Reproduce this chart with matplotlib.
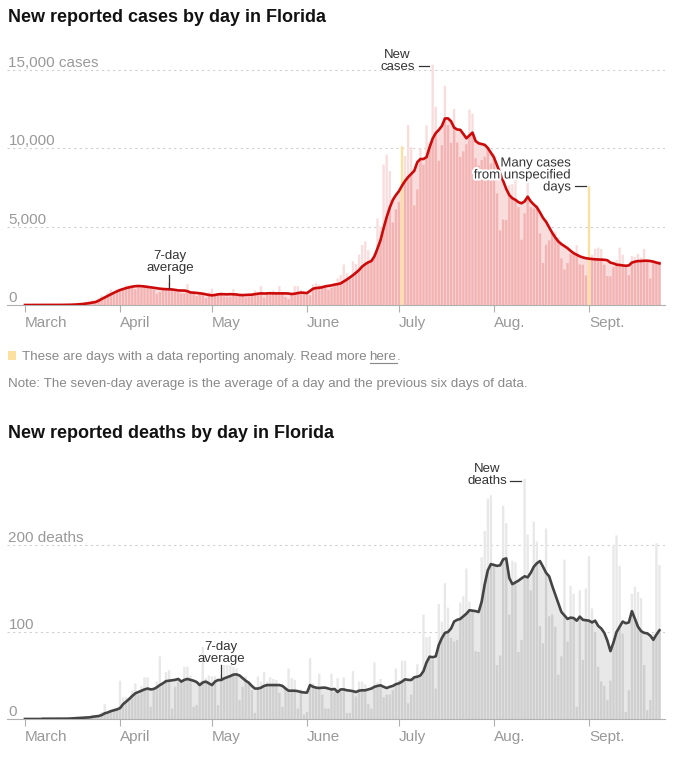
import matplotlib
matplotlib.use('Agg')
import matplotlib.pyplot as plt
import matplotlib.transforms as mtransforms
import matplotlib.patheffects as pe
from matplotlib.lines import Line2D
from matplotlib.patches import Rectangle
import numpy as np

plt.rcParams['font.family'] = ['Liberation Sans', 'DejaVu Sans']

# ---- data: one value per day, March 1 to Sept. 24 ----
months = ['March', 'April', 'May', 'June', 'July', 'Aug.', 'Sept.']
month_start = [0, 31, 61, 92, 122, 153, 184]

cases_mar = [2, 0, 1, 2, 1, 2, 4, 4, 4, 6, 5, 14, 15, 20, 38, 18, 56, 94, 126, 130,
             205, 270, 314, 280, 432, 615, 535, 776, 994, 840, 1000]
cases_apr = [1031, 1012, 1264, 1255, 1120, 1003, 1124, 1086, 1251, 1095, 1033, 980, 721, 832, 1062,
             1032, 1413, 1034, 844, 812, 738, 740, 1330, 856, 776, 573, 744, 659, 431, 820]
cases_may = [1038, 602, 735, 819, 541, 516, 532, 1009, 731, 682, 602, 484, 520, 697, 927, 777,
             1205, 475, 709, 735, 928, 776, 1203, 773, 509, 376, 651, 1204, 1212, 957, 740]
cases_jun = [667, 617, 1317, 1419, 1305, 1270, 1180, 966, 1096, 1371, 1698, 1902, 2581, 2016, 1758,
             2783, 2610, 3207, 3822, 4049, 3494, 2926, 3286, 5508, 5004, 8942, 9585, 8530, 5266, 6093]
cases_jul = [6563, 10109, 9488, 11458, 10059, 6336, 7361, 9989, 8935, 11433, 10360, 15300, 12624,
             9194, 10181, 13965, 11466, 10328, 12478, 10347, 9440, 9785, 10249, 12444, 12199, 9344,
             8892, 9230, 9446, 9956, 9007]
cases_aug = [9642, 7104, 4752, 5446, 5409, 7650, 7686, 8502, 6229, 4155, 5831, 8109, 6236, 6148,
             6352, 4559, 2678, 3838, 4115, 4555, 4684, 4311, 2974, 2258, 2673, 3269, 3220, 3815,
             2583, 2564, 1885]
cases_sep = [7569, 3198, 3571, 3656, 3573, 2564, 1838, 1827, 2423, 2870, 3650, 3190, 2423, 1900,
             3116, 3060, 3255, 3040, 3573, 2870, 1685, 2870, 2790, 2800]

cases_avg_mar = [0, 0, 1, 1, 1, 1, 2, 2, 3, 3, 4, 5, 7, 9, 12, 16, 24, 35, 50, 68,
                 92, 120, 155, 190, 270, 380, 480, 580, 680, 780, 870]
cases_avg_apr = [955, 1020, 1080, 1125, 1170, 1200, 1210, 1200, 1180, 1150, 1125, 1100, 1070, 1040,
                 1020, 1010, 1000, 990, 960, 930, 920, 920, 880, 800, 785, 770, 745, 720, 680, 640]
cases_avg_may = [615, 640, 680, 690, 685, 680, 690, 680, 670, 640, 630, 640, 650, 660, 690, 720,
                 740, 730, 740, 750, 740, 740, 740, 740, 740, 730, 700, 720, 760, 790, 780]
cases_avg_jun = [760, 900, 1040, 1080, 1100, 1130, 1190, 1220, 1250, 1300, 1330, 1380, 1500, 1620,
                 1760, 1900, 2060, 2230, 2450, 2600, 2720, 2800, 3100, 3600, 4140, 4900, 5600,
                 6200, 6690, 7000]
cases_avg_jul = [7250, 7600, 7900, 8150, 8350, 8550, 9100, 9300, 9300, 9420, 10050, 10600, 10950,
                 11150, 11400, 11880, 11890, 11700, 11300, 11180, 11160, 10900, 10620, 10800,
                 10980, 10450, 10300, 10250, 10200, 10000, 9700]
cases_avg_aug = [9400, 8900, 8390, 7900, 7400, 7000, 6800, 6700, 6550, 6480, 6600, 6900, 6600,
                 6400, 6220, 5900, 5550, 5300, 4950, 4600, 4300, 4050, 3880, 3750, 3620, 3450,
                 3300, 3200, 3100, 3030, 2980]
cases_avg_sep = [2950, 2930, 2910, 2900, 2890, 2880, 2850, 2700, 2650, 2570, 2550, 2520, 2500,
                 2520, 2700, 2760, 2800, 2800, 2820, 2820, 2800, 2760, 2700, 2650]

# days flagged as data reporting anomalies (July 2, Sept. 1)
anomaly_days = [123, 184]

deaths_mar = [0, 0, 0, 0, 0, 0, 2, 0, 0, 0, 0, 0, 0, 1, 0, 1, 1, 2, 2, 0,
              3, 1, 5, 4, 3, 8, 17, 6, 10, 12, 12]
deaths_apr = [44, 25, 25, 25, 33, 41, 28, 38, 48, 48, 14, 33, 43, 72, 39, 54, 56, 12, 37, 43,
              45, 60, 60, 50, 14, 16, 43, 83, 47, 50]
deaths_may = [49, 49, 16, 50, 62, 62, 62, 60, 58, 22, 37, 49, 41, 33, 7, 49, 43, 54, 43, 48,
              46, 45, 30, 14, 37, 58, 47, 45, 12, 34, 5]
deaths_jun = [8, 70, 41, 37, 52, 28, 12, 12, 52, 31, 47, 31, 48, 7, 7, 55, 26, 43, 43, 40,
              17, 12, 65, 42, 46, 25, 28, 28, 33, 58]
deaths_jul = [45, 67, 67, 18, 28, 47, 63, 48, 120, 94, 95, 68, 35, 132, 112, 156, 128, 93, 89, 91,
              134, 141, 173, 135, 124, 78, 77, 186, 216, 253, 257]
deaths_aug = [179, 62, 73, 245, 225, 120, 182, 180, 77, 91, 276, 212, 148, 227, 204, 107, 87, 219,
              118, 120, 106, 51, 72, 183, 89, 153, 144, 14, 148, 68, 150]
deaths_sep = [187, 127, 100, 60, 43, 38, 22, 44, 200, 211, 176, 98, 8, 33, 144, 152, 146, 139,
              62, 10, 22, 98, 202, 177]

deaths_avg_mar = [0, 0, 0, 0, 0, 0, 0.3, 0.3, 0.3, 0.3, 0.3, 0.3, 0.3, 0.4, 0.4, 0.6, 0.7, 1, 1.3,
                  1.3, 1.7, 1.9, 2.5, 3, 3.4, 4.5, 6.5, 7.5, 9, 10, 11]
deaths_avg_apr = [12.5, 17, 20, 23, 26.5, 29.5, 31, 32.6, 34, 35, 34, 34.5, 36.4, 39, 41, 43.5, 44,
                  44.5, 45, 46, 43, 45, 46, 45, 44, 42.5, 39, 42, 43, 41]
deaths_avg_may = [39, 43, 44.8, 44.8, 46.7, 48, 49.4, 51, 51.3, 50, 47, 44, 41.7, 38, 35, 35, 36,
                  38, 39, 39, 39, 39, 39, 38, 35, 32.5, 32.5, 32.5, 32, 31, 30.5]
deaths_avg_jun = [30.3, 39, 37, 36, 35.6, 36, 36, 35, 34, 34.5, 31, 34, 34, 33, 32.6, 32, 31, 32.6,
                  33, 33, 34, 35, 37, 38, 38.7, 37, 35.6, 37, 38, 40]
deaths_avg_jul = [41, 43, 45.6, 45, 44.8, 47.9, 48.6, 50, 55, 65, 71.6, 71, 72, 85, 93, 99, 100,
                  104, 112, 114, 115, 118, 121, 125, 124.5, 124, 123, 135, 155, 171, 178]
deaths_avg_aug = [177, 176, 176.6, 183.5, 184.6, 162, 155, 157, 159, 161.6, 164, 162.8, 168, 175,
                  179, 181.5, 175, 168, 164, 153, 143, 133, 123, 119, 115, 116.5, 116, 113,
                  117.6, 114, 113.5]
deaths_avg_sep = [113, 111, 113, 107, 104, 99, 90, 78, 88, 100, 106, 112, 110, 111, 124, 115, 106,
                  101, 99, 98.4, 95.8, 91, 97, 102]

cases = np.array(cases_mar + cases_apr + cases_may + cases_jun + cases_jul + cases_aug + cases_sep, float)
cases_avg = np.array(cases_avg_mar + cases_avg_apr + cases_avg_may + cases_avg_jun + cases_avg_jul
                     + cases_avg_aug + cases_avg_sep, float)
deaths = np.array(deaths_mar + deaths_apr + deaths_may + deaths_jun + deaths_jul + deaths_aug + deaths_sep, float)
deaths_avg = np.array(deaths_avg_mar + deaths_avg_apr + deaths_avg_may + deaths_avg_jun + deaths_avg_jul
                      + deaths_avg_aug + deaths_avg_sep, float)
days = np.arange(len(cases))

# ---- layout helpers (pixel based, 683 x 760) ----
W, H = 683, 760
fig = plt.figure(figsize=(W / 100, H / 100), dpi=100)
GRAY = '#999999'
INK = '#333333'
LABEL_SIZE = 11


def add_ax(left, top, right, bottom):
    return fig.add_axes([left / W, 1 - bottom / H, (right - left) / W, (bottom - top) / H])


def draw_panel(ax, vals, avg, ymax, grid_vals, grid_labels, dark, light, line_color, anomalies=()):
    anomalies = np.isin(days, anomalies)
    normal = ~anomalies
    bar_kw = dict(width=0.76, lw=0, snap=False)
    ax.bar(days[normal], vals[normal], color=light, zorder=1, **bar_kw)
    ax.fill_between(days, 0, avg, color=light, lw=0, zorder=1)
    ax.bar(days[normal], np.minimum(vals, avg)[normal], color=dark, zorder=2, **bar_kw)
    if anomalies.any():
        ax.bar(days[anomalies], vals[anomalies], color='#fbe0a0', zorder=2.5, **bar_kw)
    ax.plot(days, avg, color=line_color, lw=1.9, zorder=3, solid_joinstyle='round')

    ax.set_xlim(-5.87, 208.8)
    ax.set_ylim(0, ymax)
    for s in ['top', 'right', 'left']:
        ax.spines[s].set_visible(False)
    ax.spines['bottom'].set_color('#b0b0b0')
    ax.set_yticks([])
    for v, lab in zip(grid_vals, grid_labels):
        if v > 0:
            ax.axhline(v, color='#cfcfcf', lw=0.8, ls=(0, (2, 3)), zorder=0)
        ax.annotate(lab, xy=(0, v), xycoords=('axes fraction', 'data'), xytext=(1, 2),
                    textcoords='offset points', va='baseline', ha='left',
                    fontsize=LABEL_SIZE, color=GRAY, zorder=5)
    ax.set_xticks(month_start)
    ax.set_xticklabels(months, ha='left')
    off = mtransforms.ScaledTranslation(-5 / 100, 0, fig.dpi_scale_trans)
    for lab in ax.get_xticklabels():
        lab.set_transform(lab.get_transform() + off)
    ax.tick_params(axis='x', length=5, color='#b0b0b0', labelcolor=GRAY, labelsize=LABEL_SIZE, pad=3)


def fig_text(x, y, s, **kw):
    return fig.text(x / W, 1 - y / H, s, **kw)


# ---- cases panel ----
fig_text(8, 18, 'New reported cases by day in Florida', fontsize=13, fontweight='bold',
         va='center', color='#121212')
ax1 = add_ax(7, 40, 665, 305)
draw_panel(ax1, cases, cases_avg, 16880, [0, 5000, 10000, 15000],
           ['0', '5,000', '10,000', '15,000 cases'],
           '#f3b3b3', '#f9dcdc', '#cc0a0a', anomaly_days)

ann = dict(fontsize=9.5, color=INK, linespacing=1.0)
ax1.text(47.3, 2770, '7-day\naverage', ha='center', va='center', multialignment='center', **ann)
ax1.plot([47, 47], [1080, 1900], color=INK, lw=0.9, zorder=4)
ax1.text(127.2, 15570, 'New\ncases', ha='right', va='center', multialignment='center', **ann)
ax1.plot([128.5, 131.8], [15220, 15220], color=INK, lw=0.9, zorder=4)
ax1.text(178.1, 8250, 'Many cases\nfrom unspecified\ndays', ha='right', va='center',
         multialignment='right', zorder=6,
         path_effects=[pe.withStroke(linewidth=3, foreground='white')], **ann)
ax1.plot([179.4, 183.0], [7580, 7580], color=INK, lw=0.9, zorder=4)

# ---- legend / note ----
fig.patches.append(Rectangle((8 / W, 1 - 360 / H), 8 / W, 9 / H, transform=fig.transFigure,
                             color='#fbe0a0', lw=0))
leg_kw = dict(fontsize=9.6, color='#888888', va='baseline')
t1 = fig_text(22, 360, 'These are days with a data reporting anomaly. Read more', **leg_kw)
renderer = fig.canvas.get_renderer()
x_here = t1.get_window_extent(renderer).x1 + 3
t2 = fig.text(x_here / W, 1 - 360 / H, 'here', **leg_kw)
x_end = t2.get_window_extent(renderer).x1
fig.text(x_end / W, 1 - 360 / H, '.', **leg_kw)
fig.lines.append(Line2D([x_here / W, x_end / W], [1 - 362.5 / H, 1 - 362.5 / H],
                        transform=fig.transFigure, color='#888888', lw=0.8))
fig_text(8, 387, 'Note: The seven-day average is the average of a day and the previous six days of data.',
         **leg_kw)

# ---- deaths panel ----
fig_text(8, 433, 'New reported deaths by day in Florida', fontsize=13, fontweight='bold',
         va='center', color='#121212')
ax2 = add_ax(7, 455, 665, 719)
draw_panel(ax2, deaths, deaths_avg, 303.4, [0, 100, 200], ['0', '100', '200 deaths'],
           '#cfcfcf', '#e8e8e8', '#444444')
ax2.text(64, 76.4, '7-day\naverage', ha='center', va='center', multialignment='center', **ann)
ax2.plot([64, 64], [47, 62], color=INK, lw=0.9, zorder=4)
ax2.text(157.3, 280, 'New\ndeaths', ha='right', va='center', multialignment='center', **ann)
ax2.plot([158.2, 161.8], [273.6, 273.6], color=INK, lw=0.9, zorder=4)

fig.savefig('out.png', dpi=100)
